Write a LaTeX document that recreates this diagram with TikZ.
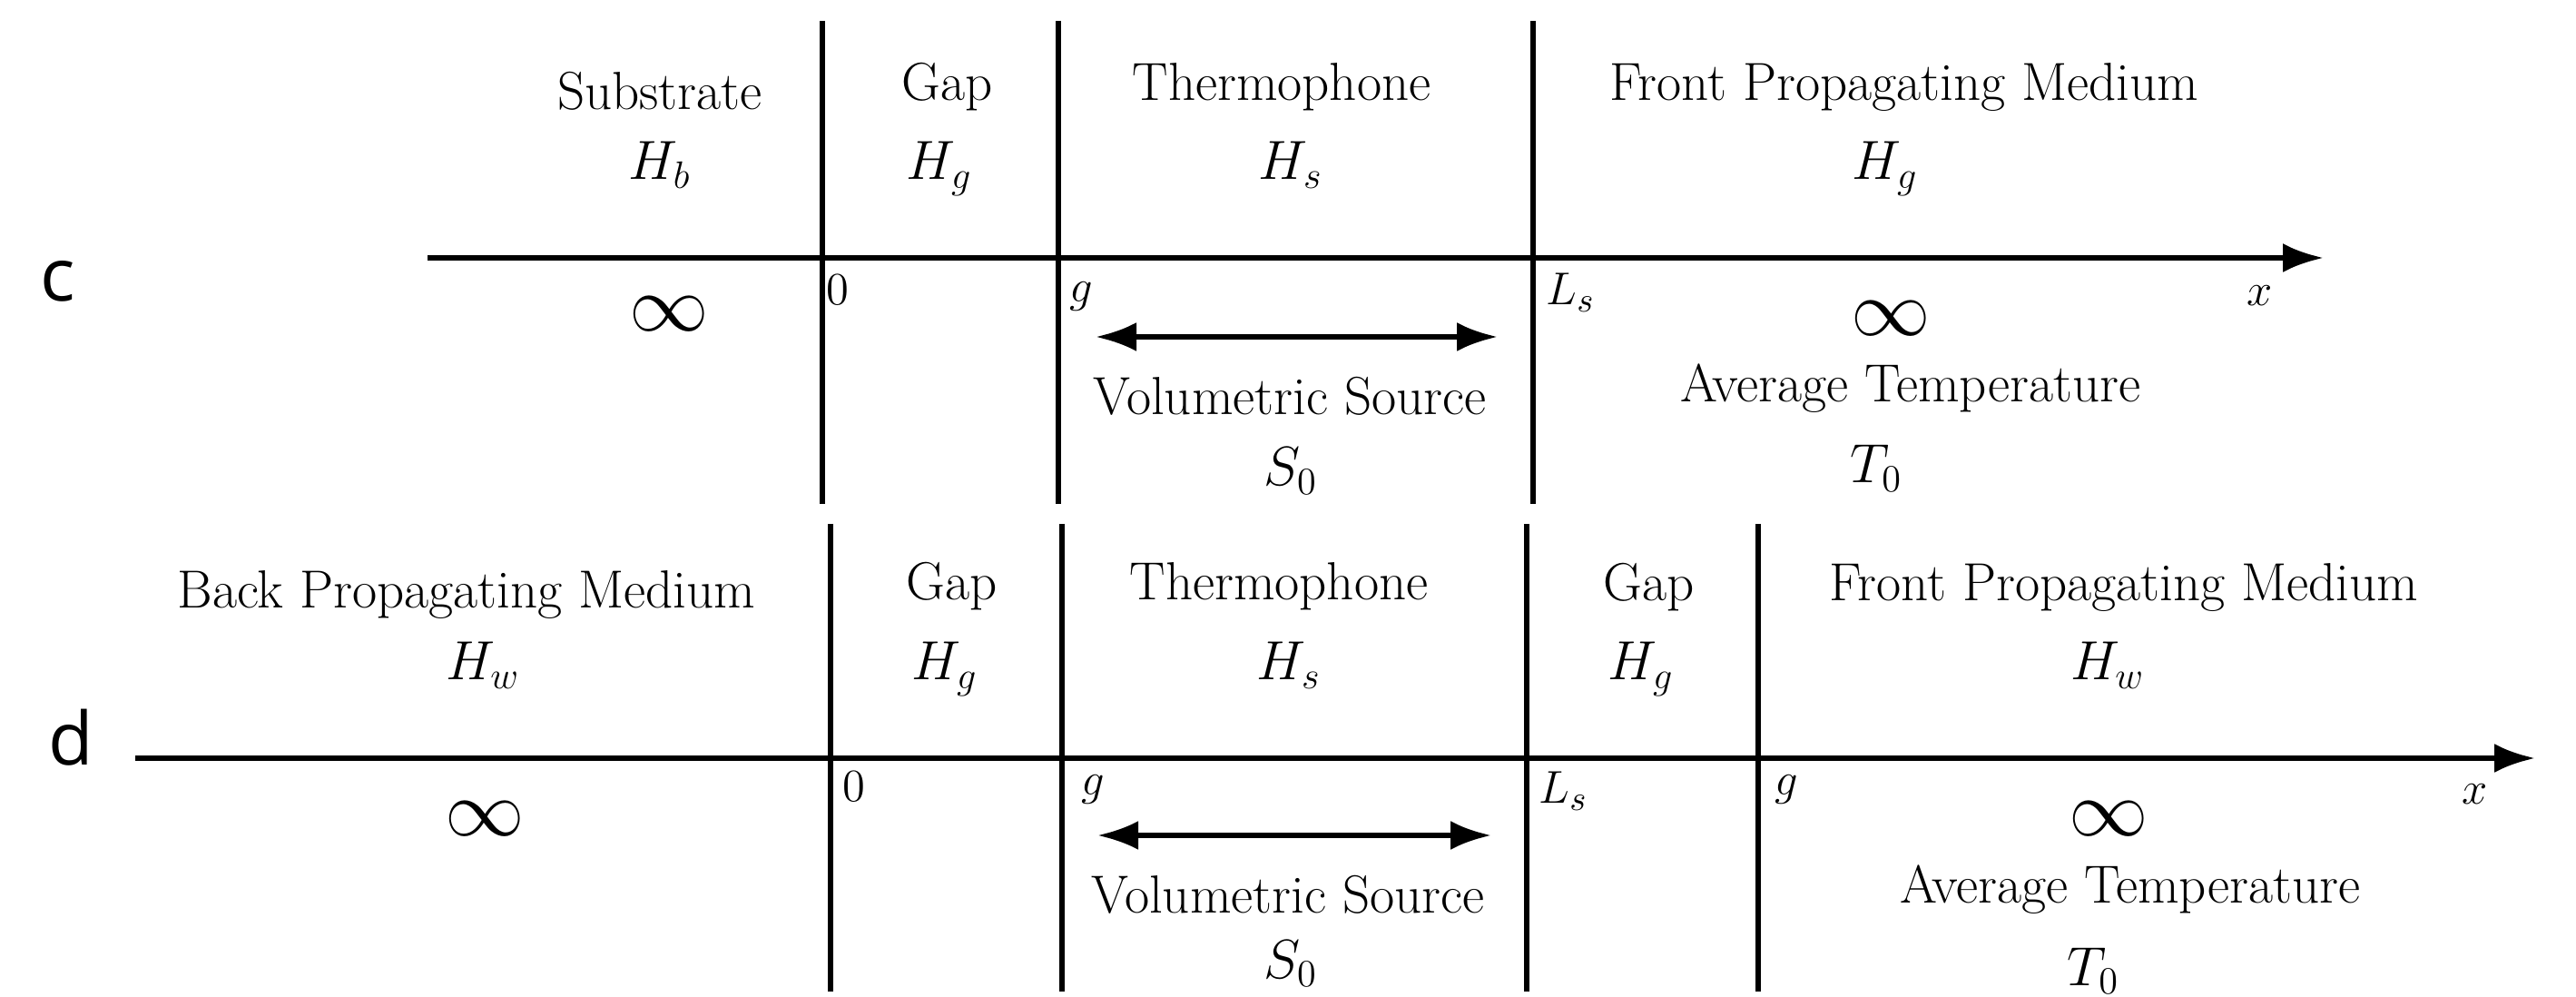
\documentclass[tikz,border=0pt]{standalone}
\usepackage{amsmath,amssymb}
\usepackage{fontspec}
\usepackage{tikz}
\usetikzlibrary{arrows.meta}
\newfontfamily\panelfont{Open Sans}

\begin{document}
\begin{tikzpicture}[
  wall/.style={line width=1.8pt},
  axis/.style={line width=1.8pt, -{Latex[length=12.8pt,width=9.1pt]}},
  span/.style={line width=1.8pt, {Latex[length=12.8pt,width=9.1pt]}-{Latex[length=12.8pt,width=9.1pt]}},
  layer/.style={anchor=base, font=\fontsize{16.8}{20}\selectfont},
  prop/.style={anchor=base, font=\fontsize{18.5}{22}\selectfont},
  tick/.style={anchor=base west, inner sep=0pt, font=\fontsize{15}{18}\selectfont},
  inf/.style={font=\fontsize{24.5}{28}\selectfont},
  panel/.style={font=\panelfont\fontsize{23}{26}\selectfont}
]
\useasboundingbox (0,0) rectangle (28.38,10.97);

% ---- panel c: substrate / gap / thermophone / front medium
\node[panel] (labc) at (0.64,7.87) {c};
\coordinate (cstart) at (4.71,8.13);
\coordinate (cend) at (25.60,8.13);
\draw[axis] (cstart) -- (cend);
\foreach \name/\xx in {cb0/9.06, cbg/11.66, cbl/16.89} {
  \coordinate (\name top) at (\xx,10.74);
  \coordinate (\name bot) at (\xx,5.42);
  \draw[wall] (\name top) -- (\name bot);
}
\node[layer] (csub) at (7.27,9.76) {Substrate};
\node[layer] (cgap) at (10.44,9.86) {Gap};
\node[layer] (cthe) at (14.12,9.86) {Thermophone};
\node[layer] (cfro) at (20.98,9.86) {Front Propagating Medium};
\node[prop] (chb) at (7.27,8.99) {$H_b$};
\node[prop] (chg) at (10.35,8.99) {$H_g$};
\node[prop] (chs) at (14.22,8.99) {$H_s$};
\node[prop] (chf) at (20.77,8.99) {$H_g$};
\node[tick] (ct0) at (9.10,7.61) {$0$};
\node[tick] (ctg) at (11.78,7.64) {$g$};
\node[tick] (ctl) at (17.03,7.61) {$L_s$};
\node[tick] (ctx) at (24.75,7.60) {$x$};
\node[inf] (cinfl) at (7.37,7.51) {$\infty$};
\node[inf] (cinfr) at (20.83,7.46) {$\infty$};
\coordinate (csl) at (12.07,7.26);
\coordinate (csr) at (16.50,7.26);
\draw[span] (csl) -- (csr);
\node[layer] (cvol) at (14.21,6.40) {Volumetric Source};
\node[prop] (cs0) at (14.22,5.62) {$S_0$};
\node[layer] (cavg) at (21.05,6.54) {Average Temperature};
\node[prop] (ct0b) at (20.67,5.65) {$T_0$};

% ---- panel d: back medium / gap / thermophone / gap / front medium
\node[panel] (labd) at (0.78,2.85) {d};
\coordinate (dstart) at (1.49,2.62);
\coordinate (dend) at (27.93,2.62);
\draw[axis] (dstart) -- (dend);
\foreach \name/\xx in {db0/9.15, dbg/11.70, dbl/16.82, dbh/19.37} {
  \coordinate (\name top) at (\xx,5.20);
  \coordinate (\name bot) at (\xx,0.05);
  \draw[wall] (\name top) -- (\name bot);
}
\node[layer] (dbak) at (5.14,4.27) {Back Propagating Medium};
\node[layer] (dgap) at (10.49,4.36) {Gap};
\node[layer] (dthe) at (14.09,4.36) {Thermophone};
\node[layer] (dgap2) at (18.17,4.35) {Gap};
\node[layer] (dfro) at (23.40,4.35) {Front Propagating Medium};
\node[prop] (dhw) at (5.32,3.48) {$H_w$};
\node[prop] (dhg) at (10.41,3.48) {$H_g$};
\node[prop] (dhs) at (14.20,3.48) {$H_s$};
\node[prop] (dhg2) at (18.08,3.48) {$H_g$};
\node[prop] (dhw2) at (23.22,3.48) {$H_w$};
\node[tick] (dt0) at (9.28,2.14) {$0$};
\node[tick] (dtg) at (11.91,2.21) {$g$};
\node[tick] (dtl) at (16.95,2.12) {$L_s$};
\node[tick] (dtg2) at (19.55,2.21) {$g$};
\node[tick] (dtx) at (27.12,2.11) {$x$};
\node[inf] (dinfl) at (5.34,1.95) {$\infty$};
\node[inf] (dinfr) at (23.23,1.95) {$\infty$};
\coordinate (dsl) at (12.09,1.77);
\coordinate (dsr) at (16.43,1.77);
\draw[span] (dsl) -- (dsr);
\node[layer] (dvol) at (14.19,0.91) {Volumetric Source};
\node[prop] (ds0) at (14.22,0.20) {$S_0$};
\node[layer] (davg) at (23.47,1.03) {Average Temperature};
\node[prop] (dt0b) at (23.06,0.12) {$T_0$};
\end{tikzpicture}
\end{document}
